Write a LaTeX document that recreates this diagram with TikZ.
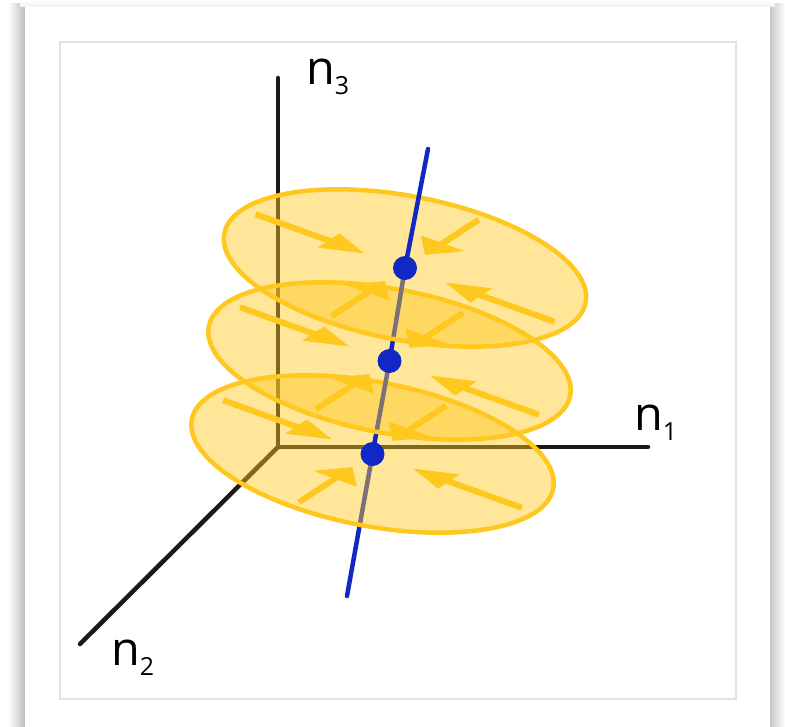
\documentclass[tikz,border=0pt]{standalone}
\usepackage{fontspec}
\setmainfont{Open Sans}
\usetikzlibrary{calc}
\definecolor{yel}{RGB}{255,200,30}
\definecolor{blu}{RGB}{18,40,196}
\definecolor{axk}{RGB}{26,26,26}
\definecolor{framegray}{RGB}{226,226,226}
\tikzset{
 axisline/.style={draw=axk, line width=4.5bp, line cap=round},
 bline/.style={draw=blu, line width=4.5bp, line cap=round},
 disk/.style={fill=yel, fill opacity=0.45, draw=yel, line width=4.5bp},
 shaft/.style={draw=yel, line width=6bp},
 head/.style={fill=yel},
 dot/.style={circle, fill=blu, inner sep=0, minimum size=24bp},
 lab/.style={anchor=base west, inner sep=0, font=\fontsize{47}{47}\selectfont},
 diskplane/.style={shift={#1}, x={(180.7bp,-34.5bp)}, y={(13.5bp,70.7bp)}},
}
\newcommand\subdigit[1]{\raisebox{-10bp}{\fontsize{25}{25}\selectfont #1}}
\newcommand\drawdisk[1]{%
 \begin{scope}[diskplane={#1}]
  \path[disk] (0,0) circle [radius=1];
 \end{scope}}
\newcommand\diskarrows[1]{%
 \begin{scope}[diskplane={#1}]
  \foreach \a in {158,68,-22,-112}{
   \draw[shaft] (\a:0.92) -- (\a:0.40);
   \fill[head] (\a:0.25) -- ({0.47*cos(\a)-0.135*sin(\a)},{0.47*sin(\a)+0.135*cos(\a)}) -- ({0.47*cos(\a)+0.135*sin(\a)},{0.47*sin(\a)-0.135*cos(\a)}) -- cycle;
  }
 \end{scope}}
\begin{document}
\begin{tikzpicture}[x=1bp,y=-1bp]
\useasboundingbox (0,0) rectangle (785,727);
% card and shadow
\fill[white] (0,0) rectangle (785,727);
\shade[left color=white, right color=black!26] (8,4) rectangle (25,727);
\shade[left color=black!22, right color=white] (770,4) rectangle (785,727);
\shade[top color=white, bottom color=black!6] (20,0) rectangle (775,7);
\fill[white] (25,7) rectangle (770,727);
\draw[framegray, line width=1.5bp] (60,42) rectangle (736,699);
% coordinates
\coordinate (O) at (278,447);
\coordinate (n1end) at (648,447);
\coordinate (n2end) at (80,644);
\coordinate (n3end) at (278,78);
\coordinate (ltop) at (428,149);
\coordinate (lbot) at (347,596);
\coordinate (cT) at (405,268);
\coordinate (cM) at (389.5,361);
\coordinate (cB) at (372.5,454);
% axes
\draw[axisline] (O) -- (n1end);
\draw[axisline] (O) -- (n2end);
\draw[axisline] (O) -- (n3end);
\node[lab] (labn3) at (306,85) {n\subdigit{3}};
\node[lab] (labn1) at (634,430) {n\subdigit{1}};
\node[lab] (labn2) at (111,665) {n\subdigit{2}};
% line below bottom disk
\draw[bline] (lbot) -- (cB);
% bottom disk
\drawdisk{(372.5,454)}
\draw[bline] (cB) -- (cM);
\diskarrows{(372.5,454)}
% middle disk
\drawdisk{(389.5,361)}
\draw[bline] (cM) -- (cT);
\diskarrows{(389.5,361)}
% top disk
\drawdisk{(405,268)}
\draw[bline] (cT) -- (ltop);
\diskarrows{(405,268)}
% dots
\node[dot] (dotB) at (cB) {};
\node[dot] (dotM) at (cM) {};
\node[dot] (dotT) at (cT) {};
\end{tikzpicture}
\end{document}
